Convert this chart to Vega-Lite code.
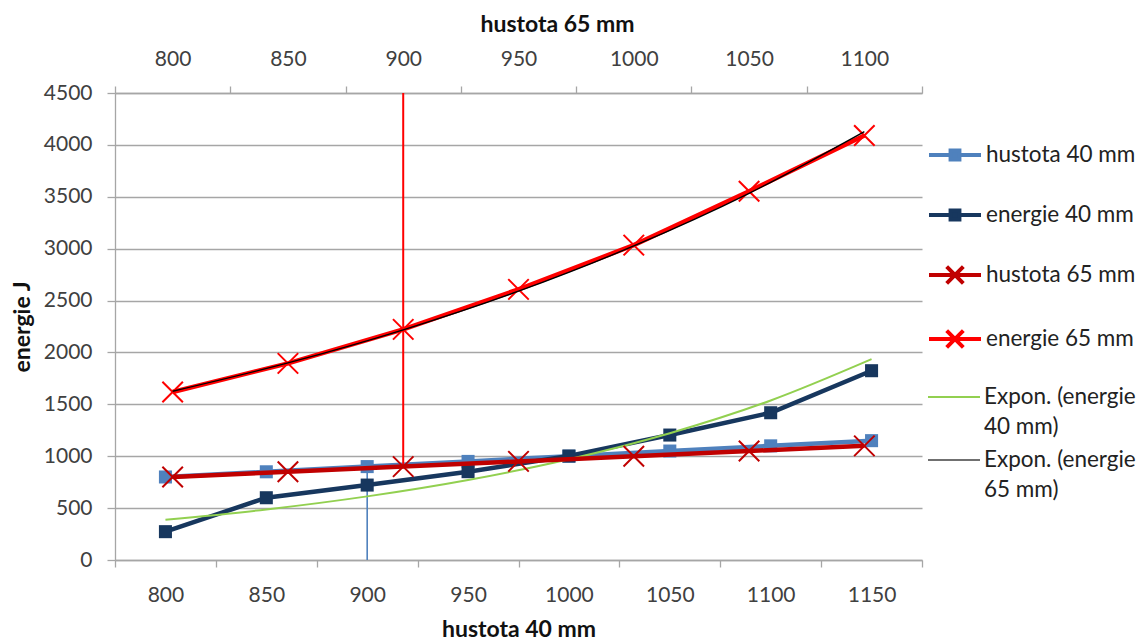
{
  "$schema": "https://vega.github.io/schema/vega-lite/v6.json",
  "width": 807,
  "height": 467,
  "autosize": {"type": "none"},
  "padding": {"left": 115, "top": 93, "right": 222, "bottom": 82},
  "background": "white",
  "config": {
    "font": "Lato",
    "view": {"stroke": null},
    "style": {"guide-label": {"lineHeight": 30}},
    "axis": {
      "labelFont": "Lato",
      "titleFont": "Lato",
      "labelFontSize": 21,
      "titleFontSize": 23,
      "titleFontWeight": "bold",
      "labelColor": "#404040",
      "titleColor": "#111111",
      "domainColor": "#a6a6a6",
      "tickColor": "#a6a6a6",
      "domainWidth": 1.3,
      "tickWidth": 1.3,
      "labelFlush": false,
      "labelOverlap": false
    },
    "legend": {
      "title": null,
      "orient": "none",
      "padding": 0,
      "symbolSize": 2704,
      "labelFont": "Lato",
      "labelFontSize": 22.5,
      "labelColor": "#222222",
      "labelOffset": 3,
      "labelLimit": 260
    }
  },
  "datasets": {
    "d40": [
      {"hustota": 800, "serie": "hustota 40 mm", "hodnota": 800},
      {"hustota": 850, "serie": "hustota 40 mm", "hodnota": 850},
      {"hustota": 900, "serie": "hustota 40 mm", "hodnota": 900},
      {"hustota": 950, "serie": "hustota 40 mm", "hodnota": 950},
      {"hustota": 1000, "serie": "hustota 40 mm", "hodnota": 1000},
      {"hustota": 1050, "serie": "hustota 40 mm", "hodnota": 1050},
      {"hustota": 1100, "serie": "hustota 40 mm", "hodnota": 1100},
      {"hustota": 1150, "serie": "hustota 40 mm", "hodnota": 1150},
      {"hustota": 800, "serie": "energie 40 mm", "hodnota": 273},
      {"hustota": 850, "serie": "energie 40 mm", "hodnota": 600},
      {"hustota": 900, "serie": "energie 40 mm", "hodnota": 722},
      {"hustota": 950, "serie": "energie 40 mm", "hodnota": 851},
      {"hustota": 1000, "serie": "energie 40 mm", "hodnota": 1002},
      {"hustota": 1050, "serie": "energie 40 mm", "hodnota": 1204},
      {"hustota": 1100, "serie": "energie 40 mm", "hodnota": 1419},
      {"hustota": 1150, "serie": "energie 40 mm", "hodnota": 1824},
      {"hustota": 800, "serie": "Expon. (energie 40 mm)", "hodnota": 387},
      {"hustota": 850, "serie": "Expon. (energie 40 mm)", "hodnota": 487},
      {"hustota": 900, "serie": "Expon. (energie 40 mm)", "hodnota": 613},
      {"hustota": 950, "serie": "Expon. (energie 40 mm)", "hodnota": 771},
      {"hustota": 1000, "serie": "Expon. (energie 40 mm)", "hodnota": 971},
      {"hustota": 1050, "serie": "Expon. (energie 40 mm)", "hodnota": 1222},
      {"hustota": 1100, "serie": "Expon. (energie 40 mm)", "hodnota": 1537},
      {"hustota": 1150, "serie": "Expon. (energie 40 mm)", "hodnota": 1935}
    ],
    "d65": [
      {"hustota": 800, "serie": "hustota 65 mm", "hodnota": 800},
      {"hustota": 850, "serie": "hustota 65 mm", "hodnota": 850},
      {"hustota": 900, "serie": "hustota 65 mm", "hodnota": 900},
      {"hustota": 950, "serie": "hustota 65 mm", "hodnota": 950},
      {"hustota": 1000, "serie": "hustota 65 mm", "hodnota": 1000},
      {"hustota": 1050, "serie": "hustota 65 mm", "hodnota": 1050},
      {"hustota": 1100, "serie": "hustota 65 mm", "hodnota": 1100},
      {"hustota": 800, "serie": "energie 65 mm", "hodnota": 1619},
      {"hustota": 850, "serie": "energie 65 mm", "hodnota": 1895},
      {"hustota": 900, "serie": "energie 65 mm", "hodnota": 2222},
      {"hustota": 950, "serie": "energie 65 mm", "hodnota": 2608},
      {"hustota": 1000, "serie": "energie 65 mm", "hodnota": 3034},
      {"hustota": 1050, "serie": "energie 65 mm", "hodnota": 3554},
      {"hustota": 1100, "serie": "energie 65 mm", "hodnota": 4090},
      {"hustota": 800, "serie": "Expon. (energie 65 mm)", "hodnota": 1626},
      {"hustota": 850, "serie": "Expon. (energie 65 mm)", "hodnota": 1899},
      {"hustota": 900, "serie": "Expon. (energie 65 mm)", "hodnota": 2218},
      {"hustota": 950, "serie": "Expon. (energie 65 mm)", "hodnota": 2590},
      {"hustota": 1000, "serie": "Expon. (energie 65 mm)", "hodnota": 3026},
      {"hustota": 1050, "serie": "Expon. (energie 65 mm)", "hodnota": 3533},
      {"hustota": 1100, "serie": "Expon. (energie 65 mm)", "hodnota": 4128}
    ]
  },
  "layer": [
    {
      "data": {"name": "d40"},
      "encoding": {
        "x": {
          "field": "hustota", "type": "quantitative",
          "scale": {"domain": [775, 1175], "nice": false, "zero": false},
          "axis": {
            "orient": "bottom", "title": "hustota 40 mm",
            "values": [775, 825, 875, 925, 975, 1025, 1075, 1125, 1175],
            "labelExpr": "datum.value < 1170 ? format(datum.value + 25, 'd') : ''",
            "labelOffset": 50.44, "tickSize": 7, "labelPadding": 17,
            "titlePadding": 13, "grid": false
          }
        },
        "y": {
          "field": "hodnota", "type": "quantitative",
          "scale": {"domain": [0, 4500], "nice": false},
          "axis": {
            "title": "energie J", "values": [0, 500, 1000, 1500, 2000, 2500, 3000, 3500, 4000, 4500],
            "format": "d",
            "grid": true, "gridColor": "#a6a6a6", "gridWidth": 1.3,
            "tickSize": 8, "labelPadding": 15, "titlePadding": 9
          }
        }
      },
      "layer": [
        {
          "transform": [{"filter": "datum.serie == 'hustota 40 mm' && datum.hustota == 900"}],
          "mark": {"type": "rule", "color": "#4F81BD", "strokeWidth": 1.6},
          "encoding": {"y2": {"datum": 0}}
        },
        {
          "transform": [{"filter": "datum.serie == 'hustota 40 mm'"}],
          "mark": {"type": "line", "color": "#4F81BD", "strokeWidth": 4.5}
        },
        {
          "transform": [{"filter": "datum.serie == 'hustota 40 mm'"}],
          "mark": {"type": "point", "shape": "square", "filled": true, "opacity": 1, "size": 170, "color": "#4F81BD"}
        },
        {
          "transform": [{"filter": "datum.serie == 'energie 40 mm'"}],
          "mark": {"type": "line", "color": "#17375E", "strokeWidth": 4.5}
        },
        {
          "transform": [{"filter": "datum.serie == 'energie 40 mm'"}],
          "mark": {"type": "point", "shape": "square", "filled": true, "opacity": 1, "size": 170, "color": "#17375E"}
        },
        {
          "transform": [{"filter": "datum.serie == 'Expon. (energie 40 mm)'"}],
          "mark": {"type": "line", "color": "#92D050", "strokeWidth": 2, "interpolate": "monotone"}
        }
      ]
    },
    {
      "data": {"name": "d65"},
      "encoding": {
        "x": {
          "field": "hustota", "type": "quantitative",
          "scale": {"domain": [775, 1125], "nice": false, "zero": false},
          "axis": {
            "orient": "top", "title": "hustota 65 mm",
            "values": [775, 825, 875, 925, 975, 1025, 1075, 1125],
            "labelExpr": "datum.value < 1120 ? format(datum.value + 25, 'd') : ''",
            "labelOffset": 57.64, "tickSize": 7, "labelPadding": 17,
            "titlePadding": 12, "grid": false, "titleX": 442, "titleAnchor": null
          }
        },
        "y": {
          "field": "hodnota", "type": "quantitative",
          "scale": {"domain": [0, 4500], "nice": false},
          "axis": {
            "title": "energie J", "values": [0, 500, 1000, 1500, 2000, 2500, 3000, 3500, 4000, 4500],
            "format": "d",
            "grid": true, "gridColor": "#a6a6a6", "gridWidth": 1.3,
            "tickSize": 8, "labelPadding": 15, "titlePadding": 9
          }
        }
      },
      "layer": [
        {
          "transform": [{"filter": "datum.serie == 'hustota 65 mm' && datum.hustota == 900"}],
          "mark": {"type": "rule", "color": "#FF0000", "strokeWidth": 2},
          "encoding": {"y2": {"datum": 4500}}
        },
        {
          "transform": [{"filter": "datum.serie == 'hustota 65 mm'"}],
          "mark": {"type": "line", "color": "#C00000", "strokeWidth": 4.5}
        },
        {
          "transform": [{"filter": "datum.serie == 'hustota 65 mm'"}],
          "mark": {"type": "point", "shape": "M-1,-1L1,1M-1,1L1,-1", "filled": false, "opacity": 1, "size": 420, "strokeWidth": 2, "color": "#C00000"}
        },
        {
          "transform": [{"filter": "datum.serie == 'energie 65 mm'"}],
          "mark": {"type": "line", "color": "#FF0000", "strokeWidth": 4.5}
        },
        {
          "transform": [{"filter": "datum.serie == 'energie 65 mm'"}],
          "mark": {"type": "point", "shape": "M-1,-1L1,1M-1,1L1,-1", "filled": false, "opacity": 1, "size": 420, "strokeWidth": 2, "color": "#FF0000"}
        },
        {
          "transform": [{"filter": "datum.serie == 'Expon. (energie 65 mm)'"}],
          "mark": {"type": "line", "color": "#000000", "strokeWidth": 1.4, "interpolate": "monotone"}
        }
      ]
    },
    {
      "data": {"name": "d40"},
      "transform": [{"filter": "false"}],
      "mark": {"type": "point", "opacity": 1},
      "encoding": {
        "shape": {
          "field": "serie", "type": "nominal",
          "scale": {
            "domain": ["hustota 40 mm", "energie 40 mm", "hustota 65 mm", "energie 65 mm"],
            "range": [
              "M-1,0H-0.17M0.17,0H1M-0.17,-0.17H0.17V0.17H-0.17Z",
              "M-1,0H-0.17M0.17,0H1M-0.17,-0.17H0.17V0.17H-0.17Z",
              "M-1,0H1M-0.32,-0.32L0.32,0.32M-0.32,0.32L0.32,-0.32",
              "M-1,0H1M-0.32,-0.32L0.32,0.32M-0.32,0.32L0.32,-0.32"
            ]
          },
          "legend": {
            "legendX": 812, "legendY": 34, "rowPadding": 19, "symbolStrokeWidth": 4,
            "encode": {"symbols": {"update": {"strokeWidth": {"value": 4}}}}
          }
        },
        "stroke": {
          "field": "serie", "type": "nominal",
          "scale": {
            "domain": ["hustota 40 mm", "energie 40 mm", "hustota 65 mm", "energie 65 mm"],
            "range": ["#4F81BD", "#17375E", "#C00000", "#FF0000"]
          },
          "legend": {
            "legendX": 812, "legendY": 34, "rowPadding": 19, "symbolStrokeWidth": 4,
            "encode": {"symbols": {"update": {"strokeWidth": {"value": 4}}}}
          }
        },
        "fill": {
          "field": "serie", "type": "nominal",
          "scale": {
            "domain": ["hustota 40 mm", "energie 40 mm", "hustota 65 mm", "energie 65 mm"],
            "range": ["#4F81BD", "#17375E", "transparent", "transparent"]
          },
          "legend": {
            "legendX": 812, "legendY": 34, "rowPadding": 19, "symbolStrokeWidth": 4,
            "encode": {"symbols": {"update": {"strokeWidth": {"value": 4}}}}
          }
        }
      }
    },
    {
      "data": {"name": "d40"},
      "transform": [{"filter": "false"}],
      "mark": {"type": "point", "opacity": 1, "filled": false, "color": "#92D050", "strokeWidth": 2},
      "encoding": {
        "strokeDash": {
          "field": "serie", "type": "nominal",
          "scale": {"domain": ["Expon. (energie 40 mm)"], "range": [[1, 0]]},
          "legend": {
            "legendX": 812, "legendY": 277,
            "symbolType": "M-1,0H1", "symbolStrokeWidth": 2, "symbolStrokeColor": "#92D050",
            "labelExpr": "['Expon. (energie', '40 mm)']",
            "encode": {"symbols": {"update": {"stroke": {"value": "#92D050"}, "strokeWidth": {"value": 2}}}}
          }
        }
      }
    },
    {
      "data": {"name": "d65"},
      "transform": [{"filter": "false"}],
      "mark": {"type": "point", "opacity": 1, "filled": false, "strokeWidth": 1.5},
      "encoding": {
        "color": {
          "field": "serie", "type": "nominal",
          "scale": {"domain": ["Expon. (energie 65 mm)"], "range": ["#404040"]},
          "legend": {
            "legendX": 812, "legendY": 340,
            "symbolType": "M-1,0H1", "symbolStrokeWidth": 1.5,
            "labelExpr": "['Expon. (energie', '65 mm)']",
            "encode": {"symbols": {"update": {"stroke": {"value": "#404040"}, "strokeWidth": {"value": 1.5}}}}
          }
        }
      }
    }
  ],
  "resolve": {"scale": {"x": "independent"}, "axis": {"x": "independent"}}
}
